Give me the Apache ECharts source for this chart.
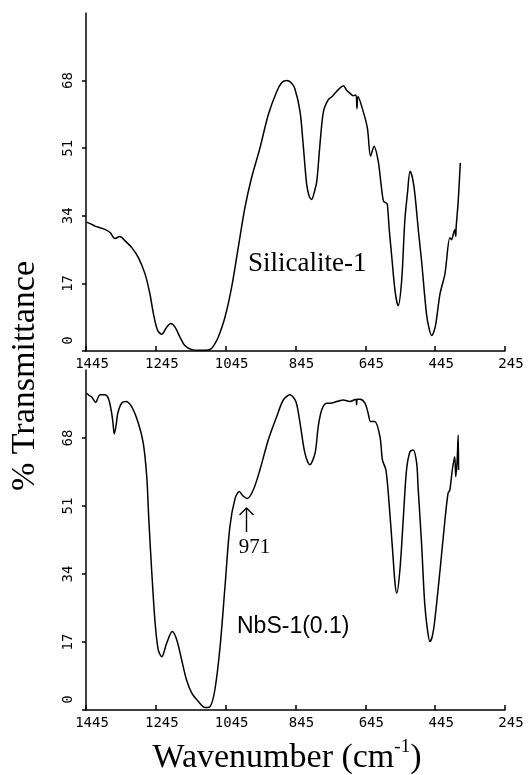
<!DOCTYPE html>
<html><head><meta charset="utf-8">
<script src="https://cdn.jsdelivr.net/npm/echarts@6/dist/echarts.min.js"></script>
<style>html,body{margin:0;padding:0;background:#fff;}#c{width:530px;height:775px;}</style>
</head><body><div id="c"></div><script>
// Silicalite-1 spectrum (top)
const silWavenumber = [1443,1430,1419,1405,1391,1376,1362,1348,1333,1314,1295,1276,1262,1252,1240,1228,1214,1202,1190,1176,1162,1142,1120,1100,1086,1076,1066,1047,1028,1009,990,971,947,923,899,884,870,858,847,832,823,813,806,799,791,784,775,765,751,740,732,718,708,698,689,680,672,669,666,651,639,630,620,608,600,593,585,582,576,570,560,551,541,532,524,517,510,503,493,484,470,462,455,449,443,431,417,403,398,393,389,386,385,379,373];
const silTransmittance = [32.4,31.9,31.4,31.0,30.6,29.8,28.3,28.8,27.7,26.0,23.5,19.4,14.4,9.4,5.2,4.2,6.0,6.9,6.0,3.5,1.4,0.35,0.2,0.2,0.6,1.8,3.5,8.5,16,26,36,43.5,51,59.4,65.2,67.5,68,67.5,66,60.2,51.9,41.9,39,38.1,40,42.7,51.9,60.2,63.2,64,64.8,66.1,66.7,65.5,64.8,64.2,64.4,61,64,60.2,56,49,51.5,47.7,42,37.7,37.2,36.9,30,24.4,15.2,11.4,17.7,32.7,40,45.2,43.5,39.4,30.2,22.7,9.4,5.5,3.9,4.8,6.9,14.4,19.4,28.5,28.0,29.4,30.5,28.8,31,37.7,47.3];
// NbS-1(0.1) spectrum (bottom)
const nbsWavenumber = [1443,1435,1429,1417,1411,1405,1391,1381,1373,1368,1364,1359,1354,1343,1331,1314,1295,1281,1271,1265,1257,1247,1238,1228,1214,1198,1185,1171,1157,1142,1123,1104,1090,1076,1061,1047,1033,1018,1006,995,983,966,947,923,899,880,861,844,832,818,804,789,780,770,756,746,727,708,689,672,670,668,660,646,637,630,618,603,596,586,577,567,560,555,546,536,527,517,508,498,494,484,475,467,460,453,446,431,417,408,403,396,389,386,382,379,378];
const nbsTransmittance = [79.2,78.6,78.3,76.9,78.0,78.8,78.8,77.9,75,72,69,71,74.2,76.7,77.1,75.8,71.7,66.7,58.3,47.5,35,21.7,15,13.3,16.7,19.6,17.5,12.5,7.5,4.2,2.1,0.6,0.8,5,15.8,30.8,45.8,52.9,54.6,53.5,52.9,55,60,67.5,73.3,77.5,78.8,77.1,71.7,64.2,61.3,64.2,70.8,75,76.7,76.7,77.1,77.5,77.1,77.7,76.3,77.7,77.7,76.7,74.2,72.1,72.1,68.3,62.5,60,51.7,40,31.7,29.2,35,48.3,60,64.6,65,61.7,55.8,41.7,26.7,20,17.1,18.5,22.5,35,47.5,54.2,55,60,63.3,58.3,62.5,68.75,60];
const xTickValues = [1445,1245,1045,845,645,445,245];
const yTickValues = [0,17,34,51,68];
const xMin = 245, xMax = 1445, yMin = 0, yMax = 85;

const chart = echarts.init(document.getElementById('c'), null, {renderer:'canvas'});
const black = '#000';
const tickFont = 'DejaVu Sans Mono';
function xAxisCfg(gi){
  return {gridIndex:gi, type:'value', min:xMin, max:xMax, inverse:true,
    axisLine:{show:true, onZero:false, lineStyle:{color:black, width:1.5}},
    axisTick:{show:true, inside:true, length:5, lineStyle:{color:black, width:1.5}, customValues:xTickValues},
    axisLabel:{show:true, customValues:xTickValues, fontFamily:tickFont, fontSize:14, color:black, margin:6, padding:[0,0,0,12], hideOverlap:false, formatter:v=>String(v)},
    splitLine:{show:false}};
}
function yAxisCfg(gi){
  return {gridIndex:gi, type:'value', min:yMin, max:yMax,
    axisLine:{show:true, onZero:false, lineStyle:{color:black, width:1.5}},
    axisTick:{show:true, inside:false, length:4, lineStyle:{color:black, width:1.5}, customValues:yTickValues},
    axisLabel:{show:true, customValues:yTickValues, rotate:90, margin:11, fontFamily:tickFont, fontSize:14, color:black, hideOverlap:false,
      formatter:v=> v===0 ? '{z|0}' : String(v),
      rich:{z:{fontFamily:tickFont, fontSize:14, color:black, padding:[0,0,0,21]}}},
    splitLine:{show:false}};
}
const serif = '"Liberation Serif","Times New Roman",serif';
chart.setOption({
  animation:false,
  backgroundColor:'#fff',
  grid:[
    {left:86, right:25, top:13, bottom:424, outerBoundsMode:'none'},
    {left:86, right:25, top:370, bottom:65, outerBoundsMode:'none'}
  ],
  xAxis:[xAxisCfg(0), xAxisCfg(1)],
  yAxis:[yAxisCfg(0), yAxisCfg(1)],
  series:[
    {type:'line', xAxisIndex:0, yAxisIndex:0, showSymbol:false, smooth:0.3,
     lineStyle:{color:black, width:1.5}, data:silWavenumber.map((w,i)=>[w, silTransmittance[i]])},
    {type:'line', xAxisIndex:1, yAxisIndex:1, showSymbol:false, smooth:0.3,
     lineStyle:{color:black, width:1.5}, data:nbsWavenumber.map((w,i)=>[w, nbsTransmittance[i]])}
  ],
  graphic:[
    {type:'text', x:248, y:264, style:{text:'Silicalite-1', font:'27px '+serif, fill:black, align:'left', verticalAlign:'middle'}},
    {type:'text', x:237, y:627, style:{text:'NbS-1(0.1)', font:'23px "Liberation Sans",Arial,sans-serif', fill:black, align:'left', verticalAlign:'middle'}},
    {type:'text', x:254.5, y:547, style:{text:'971', font:'21px '+serif, fill:black, align:'center', verticalAlign:'middle'}},
    {type:'line', shape:{x1:246.5, y1:508, x2:246.5, y2:532}, style:{stroke:black, lineWidth:1.4}},
    {type:'polyline', shape:{points:[[239.5,515],[246.5,508],[253.5,515]]}, style:{stroke:black, fill:null, lineWidth:1.4}},
    {type:'text', x:25, y:376, rotation:Math.PI/2, style:{text:'% Transmittance', font:'34px '+serif, fill:black, align:'center', verticalAlign:'middle'}},
    {type:'text', x:287, y:758, style:{text:'{a|Wavenumber (cm}{s|-1}{a|)}', fill:black, align:'center', verticalAlign:'middle',
      rich:{a:{font:'34px '+serif, fill:black}, s:{font:'19px '+serif, fill:black, padding:[0,0,22,0]}}}}
  ]
});
</script></body></html>
